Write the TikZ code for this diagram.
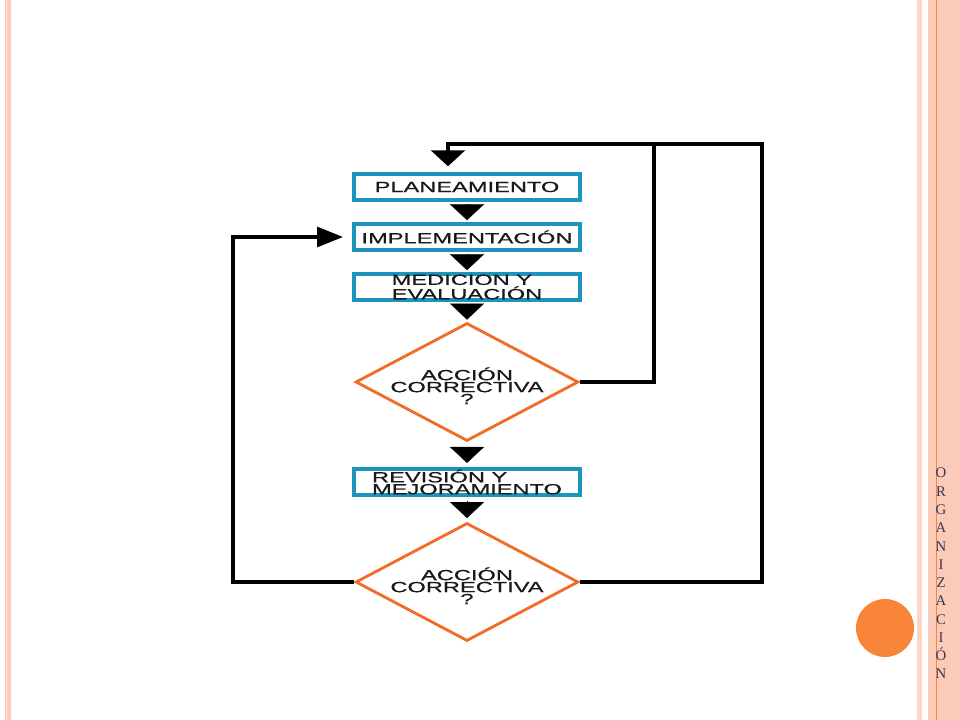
\documentclass[tikz,border=0pt]{standalone}
\usepackage{fontspec}
\setmainfont{Liberation Serif}
\newfontfamily\cajafont[FakeStretch=1.6,FakeBold=0.6]{Liberation Sans}
\usetikzlibrary{arrows.meta,calc,shapes.geometric,shadows}
\definecolor{cajaazul}{RGB}{28,148,188}
\definecolor{rombonaranja}{RGB}{240,108,40}
\definecolor{rosa}{RGB}{251,202,184}
\definecolor{naranja}{RGB}{249,134,56}
\definecolor{letras}{RGB}{56,56,88}

\begin{document}
\begin{tikzpicture}[x=0.025cm,y=-0.025cm]
	\tikzstyle{caja} = [draw=cajaazul, line width=2.6pt, fill=white, minimum width=5.65cm, minimum height=0.65cm, inner sep=0pt, align=left, text=black!90, font=\cajafont\fontsize{10.5}{8.5}\selectfont, drop shadow={shadow xshift=1.5pt, shadow yshift=-1.5pt, opacity=0.3}]
	\tikzstyle{rombo} = [diamond, draw=rombonaranja, line width=2pt, fill=white, minimum width=5.57cm, minimum height=2.95cm, shape aspect=1.9, inner xsep=-12pt, inner ysep=0pt, text height=31.5pt, text depth=0pt, align=center, text=black!90, font=\cajafont\fontsize{10.5}{8.5}\selectfont]
	\tikzstyle{linea} = [line width=2.2pt, black]
	\tikzstyle{punta} = [line width=0.1pt, -{Triangle[length=0.4cm, width=0.85cm]}, shorten <=3pt, shorten >=1.4pt]
	\tikzstyle{letra} = [anchor=base, inner sep=0pt, text=letras, font=\fontsize{10.5}{10}\selectfont]
	\useasboundingbox (0,0) rectangle (960,720);
	\fill[white] (0,0) rectangle (960,720);
	\fill[rosa] (5,0) rectangle (11,720);
	\fill[white!55!rosa] (6,0) rectangle (7,720);
	\fill[rosa!80] (917,0) rectangle (922,720);
	\fill[rosa] (928,0) rectangle (960,720);
	\draw[naranja, line width=0.8pt] (936.5,0) -- (936.5,720);
	\fill[naranja] (885,628) circle (0.725cm);
	\foreach \l [count=\k] in {O,R,G,A,N,I,Z,A,C,I,Ó,N}
		\node[letra] at (941,{478+18.27*(\k-1)}) {\l};
	\node[caja] (P) at (467,187) {PLANEAMIENTO};
	\node[caja] (I) at (467,237) {IMPLEMENTACIÓN};
	\node[caja] (M) at (467,287) {MEDICION Y\\EVALUACIÓN};
	\node[rombo] (C1) at (467,382) {ACCIÓN\\CORRECTIVA\\?};
	\node[caja] (R) at (467,482) {REVISIÓN Y\\MEJORAMIENTO};
	\node[rombo] (C2) at (467,582) {ACCIÓN\\CORRECTIVA\\?};
	\draw[punta] (P) -- (I);
	\draw[punta] (I) -- (M);
	\draw[punta] (M) -- (C1);
	\draw[punta, shorten >=3pt] (C1) -- (R);
	\draw[punta, shorten >=2.5pt] (R) -- (C2);
	\draw[linea, -{Triangle[length=0.4cm, width=0.85cm]}, shorten >=4.2pt] (C1.east) -| (654,144) -| ($(P.north)+(-19,0)$);
	\draw[linea] (C2.east) -| (762,144) -- (654,144);
	\draw[linea, -{Triangle[length=0.65cm, width=0.5cm]}, shorten >=6.5pt] (C2.west) -| (233,237) -- (I.west);
\end{tikzpicture}
\end{document}
